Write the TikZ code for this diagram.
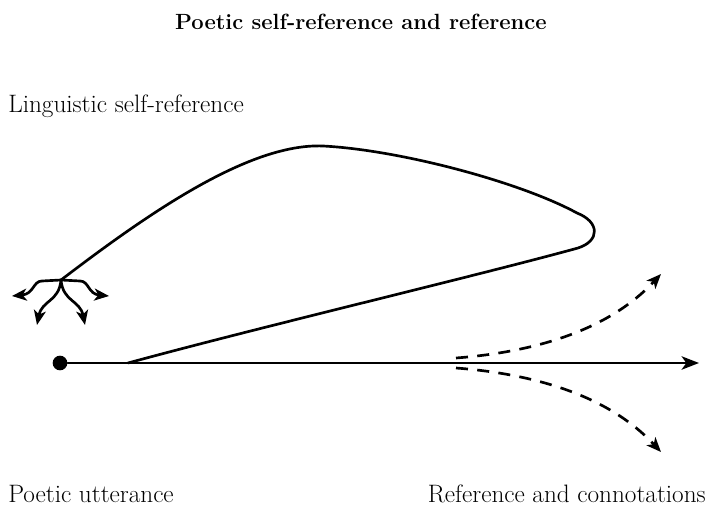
\documentclass[tikz,border=0pt]{standalone}
\usepackage{tikz}
\usetikzlibrary{arrows.meta,calc}

\begin{document}
\begin{tikzpicture}[x=0.75pt, y=-0.75pt,
    lbl/.style={font=\fontsize{18.9}{22}\selectfont, inner sep=0pt},
    mainline/.style={line width=2pt, line cap=round},
    tip/.style={-{Stealth[length=13pt, width=10pt, inset=3.5pt]}},
    smalltip/.style={-{Stealth[length=11pt, width=9pt, inset=3pt]}},
    dashline/.style={line width=2pt, dash pattern=on 9pt off 7pt}]
    \useasboundingbox (0,0) rectangle (707,506);

    % Title
    \node[lbl, font=\fontsize{16.5}{19}\selectfont\bfseries] (title) at (361,22) {Poetic self-reference and reference};

    % Labels
    \node[lbl, anchor=west] (ling) at (8,106) {Linguistic self-reference};
    \node[lbl, anchor=west] (utter) at (8,494) {Poetic utterance};
    \node[lbl, anchor=east] (refcon) at (706,494) {Reference and connotations};

    % Main axis
    \node[circle, fill=black, inner sep=0pt, minimum size=11pt] (start) at (60,363) {};
    \coordinate (end) at (699,363);
    \draw[mainline, tip] (start) -- (end);

    % Self-reference loop
    \coordinate (base) at (128,363);
    \coordinate (junc) at (61,280);
    \draw[mainline] (base) .. controls (260,327) and (480,275) .. (578,248)
        .. controls (600,241) and (600,222) .. (577,213)
        .. controls (520,182) and (400,150) .. (323,146)
        .. controls (250,143) and (150,212) .. (junc);

    % Scattering arrows at the junction
    \coordinate (ll) at (12,296);
    \coordinate (rr) at (109,296);
    \coordinate (dl) at (37,325);
    \coordinate (dr) at (85,325);
    \draw[mainline, smalltip] (junc) -- (42,281) .. controls (33,281) and (34,294) .. (ll);
    \draw[mainline, smalltip] (junc) -- (80,281) .. controls (89,281) and (88,294) .. (rr);
    \draw[mainline, smalltip] (junc) .. controls (59,302) and (42,300) .. (dl);
    \draw[mainline, smalltip] (junc) .. controls (63,302) and (80,300) .. (dr);

    % Connotations
    \coordinate (fork) at (456,363);
    \coordinate (up) at (661,274);
    \coordinate (down) at (661,452);
    \draw[dashline, smalltip] ($(fork)+(0,-5)$) .. controls (560,350) and (620,318) .. (up);
    \draw[dashline, smalltip] ($(fork)+(0,5)$) .. controls (560,376) and (620,408) .. (down);
\end{tikzpicture}
\end{document}
